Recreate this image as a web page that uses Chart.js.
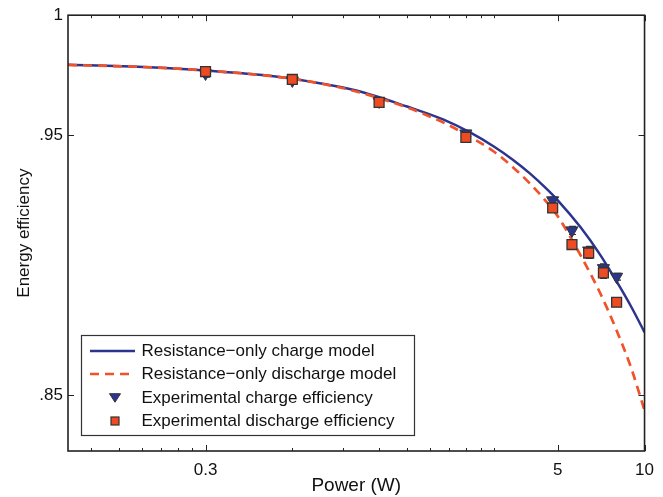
<!DOCTYPE html>
<html>
<head>
<meta charset="utf-8">
<script src="https://cdn.jsdelivr.net/npm/chart.js@4.4.0/dist/chart.umd.min.js"></script>
<style>
  html, body { margin: 0; padding: 0; background: #fff; }
  #wrap { width: 663px; height: 497px; }
</style>
</head>
<body>
<div id="wrap"><canvas id="chart" width="663" height="497"></canvas></div>
<script>
// model curves
const modelPower = [0.1, 0.2, 0.3, 0.5, 0.7, 1, 1.5, 2, 2.5, 3, 3.5, 4, 4.5, 5, 6, 7, 8, 9, 10];
const chargeModel = [0.9790, 0.9779, 0.9766, 0.9744, 0.9719, 0.9683, 0.9617, 0.9564, 0.9509, 0.9454, 0.9400, 0.9346, 0.9292, 0.9239, 0.9133, 0.9028, 0.8924, 0.8827, 0.8732];
const dischargeModel = [0.9790, 0.9779, 0.9766, 0.9744, 0.9719, 0.9679, 0.9613, 0.9552, 0.9491, 0.9434, 0.9370, 0.9306, 0.9242, 0.9176, 0.9024, 0.8882, 0.8739, 0.8598, 0.8445];

// measurements
const expPower = [0.3, 0.6, 1.2, 2.4, 4.8, 5.6, 6.4, 7.2, 8.0];
const chargeExp = [0.9754, 0.9725, 0.9638, 0.9507, 0.9239, 0.9121, 0.9043, 0.8975, 0.8942];
const chargeErr = [0.0015, 0.0012, 0.0012, 0.0013, 0.0013, 0.0016, 0.0016, 0.0016, 0.0013];
const dischargeExp = [0.9762, 0.9729, 0.9634, 0.9491, 0.9209, 0.9066, 0.9033, 0.8957, 0.8845];
const dischargeErr = [0.0012, 0.0012, 0.0013, 0.0013, 0.0016, 0.0016, 0.0021, 0.0021, 0.0016];

// ticks
const xTicks = [0.12, 0.15, 0.18, 0.21, 0.24, 0.27, 0.3, 0.6, 0.9, 1.2, 1.5, 1.8, 2.1, 2.4, 2.7, 3, 5, 10];
const xTickLabels = ["", "", "", "", "", "", "0.3", "", "", "", "", "", "", "", "", "", "5", "10"];
const yTicks = [0.85, 0.95, 1];
const yTickLabels = [".85", ".95", "1"];

const legendLabels = [
    "Resistance\u2212only charge model",
    "Resistance\u2212only discharge model",
    "Experimental charge efficiency",
    "Experimental discharge efficiency",
];

const FONT = "'Liberation Sans', Arial, Helvetica, sans-serif";
const BLUE = "#2b3590";
const RED = "#f0522a";
const SQ = "#ee4b22";
const INK = "#222";

const toXY = (xs, ys) => xs.map((x, i) => ({ x: x, y: ys[i] }));

function drawTri(ctx, x, y, r) {
    ctx.beginPath();
    ctx.moveTo(x - r, y - r * 0.6);
    ctx.lineTo(x + r, y - r * 0.6);
    ctx.lineTo(x, y + r * 0.95);
    ctx.closePath();
    ctx.fillStyle = BLUE;
    ctx.fill();
    ctx.strokeStyle = "#333";
    ctx.lineWidth = 1;
    ctx.stroke();
}

function drawSq(ctx, x, y, h) {
    ctx.fillStyle = SQ;
    ctx.fillRect(x - h, y - h, 2 * h, 2 * h);
    ctx.strokeStyle = "#333";
    ctx.lineWidth = 1.2;
    ctx.strokeRect(x - h, y - h, 2 * h, 2 * h);
}

const framePlugin = {
    id: "frame",
    beforeDatasetsDraw(chart) {
        // error bars under the markers
        const ctx = chart.ctx;
        const xs = chart.scales.x, ys = chart.scales.y;
        ctx.save();
        ctx.strokeStyle = "#333";
        ctx.lineWidth = 1.2;
        const sets = [[chargeExp, chargeErr], [dischargeExp, dischargeErr]];
        sets.forEach(([vals, errs]) => {
            vals.forEach((v, i) => {
                const px = Math.round(xs.getPixelForValue(expPower[i])) + 0.5;
                const y1 = ys.getPixelForValue(v + errs[i]);
                const y2 = ys.getPixelForValue(v - errs[i]);
                ctx.beginPath();
                ctx.moveTo(px, y1); ctx.lineTo(px, y2);
                ctx.moveTo(px - 3.5, y1); ctx.lineTo(px + 3.5, y1);
                ctx.moveTo(px - 3.5, y2); ctx.lineTo(px + 3.5, y2);
                ctx.stroke();
            });
        });
        ctx.restore();
    },
    afterDraw(chart) {
        const ctx = chart.ctx;
        const a = chart.chartArea;
        const xs = chart.scales.x, ys = chart.scales.y;
        ctx.save();
        // box
        ctx.strokeStyle = INK;
        ctx.lineWidth = 1.6;
        ctx.strokeRect(a.left, a.top, a.right - a.left, a.bottom - a.top);
        // inward ticks
        ctx.lineWidth = 1;
        ctx.beginPath();
        xTicks.forEach((v, i) => {
            const px = Math.round(xs.getPixelForValue(v)) + 0.5;
            const len = xTickLabels[i] ? 6 : 3;
            ctx.moveTo(px, a.bottom); ctx.lineTo(px, a.bottom - len);
            ctx.moveTo(px, a.top); ctx.lineTo(px, a.top + len);
        });
        yTicks.forEach((v) => {
            const py = Math.round(ys.getPixelForValue(v)) + 0.5;
            ctx.moveTo(a.left, py); ctx.lineTo(a.left + 6, py);
            ctx.moveTo(a.right, py); ctx.lineTo(a.right - 6, py);
        });
        ctx.stroke();

        // legend box
        const lx = 81, ly = 335, lw = 333, lh = 100;
        ctx.fillStyle = "#fff";
        ctx.fillRect(lx, ly, lw, lh);
        ctx.strokeStyle = "#333";
        ctx.lineWidth = 1.2;
        ctx.strokeRect(lx + 0.5, ly + 0.5, lw, lh);
        const rows = [351, 374, 398, 421];
        ctx.font = "17px " + FONT;
        ctx.fillStyle = "#111";
        ctx.textBaseline = "middle";
        ctx.textAlign = "left";
        legendLabels.forEach((t, i) => ctx.fillText(t, 141.5, rows[i]));
        ctx.lineWidth = 2.5;
        ctx.strokeStyle = BLUE;
        ctx.beginPath(); ctx.moveTo(90, rows[0]); ctx.lineTo(135, rows[0]); ctx.stroke();
        ctx.strokeStyle = RED;
        ctx.setLineDash([9, 6]);
        ctx.beginPath(); ctx.moveTo(90, rows[1]); ctx.lineTo(135, rows[1]); ctx.stroke();
        ctx.setLineDash([]);
        drawTri(ctx, 115, rows[2] - 1, 5.5);
        drawSq(ctx, 115, rows[3], 4);
        ctx.restore();
    },
};

new Chart(document.getElementById("chart"), {
    type: "line",
    data: {
        datasets: [
            {
                label: legendLabels[0],
                data: toXY(modelPower, chargeModel),
                borderColor: BLUE,
                borderWidth: 2.5,
                pointRadius: 0,
                cubicInterpolationMode: "monotone",
                order: 4,
            },
            {
                label: legendLabels[1],
                data: toXY(modelPower, dischargeModel),
                borderColor: RED,
                borderWidth: 2.7,
                borderDash: [9, 6],
                pointRadius: 0,
                cubicInterpolationMode: "monotone",
                order: 3,
            },
            {
                label: legendLabels[2],
                data: toXY(expPower, chargeExp),
                showLine: false,
                pointStyle: "triangle",
                rotation: 180,
                pointRadius: 7,
                backgroundColor: BLUE,
                borderColor: "#333",
                borderWidth: 1,
                order: 2,
            },
            {
                label: legendLabels[3],
                data: toXY(expPower, dischargeExp),
                showLine: false,
                pointStyle: "rect",
                pointRadius: 7,
                backgroundColor: SQ,
                borderColor: "#333",
                borderWidth: 1.3,
                order: 1,
            },
        ],
    },
    options: {
        responsive: false,
        animation: false,
        devicePixelRatio: 1,
        layout: { padding: { top: 14, right: 18, left: 0, bottom: 0 } },
        plugins: { legend: { display: false }, tooltip: { enabled: false } },
        scales: {
            x: {
                type: "logarithmic",
                min: 0.1,
                max: 10,
                afterBuildTicks: (s) => { s.ticks = xTicks.map((v) => ({ value: v })); },
                afterFit: (s) => { s.height = 46; },
                grid: { display: false, drawTicks: false },
                border: { display: false },
                ticks: {
                    autoSkip: false,
                    maxRotation: 0,
                    padding: 9,
                    color: "#111",
                    font: { family: FONT, size: 17 },
                    callback: (v, i) => xTickLabels[i],
                },
                title: {
                    display: true,
                    text: "Power (W)",
                    color: "#111",
                    font: { family: FONT, size: 19 },
                    padding: { top: 0, bottom: 0 },
                },
            },
            y: {
                type: "logarithmic",
                min: 0.83,
                max: 1,
                afterBuildTicks: (s) => { s.ticks = yTicks.map((v) => ({ value: v })); },
                afterFit: (s) => { s.width = 68; },
                grid: { display: false, drawTicks: false },
                border: { display: false },
                ticks: {
                    padding: 5,
                    color: "#111",
                    font: { family: FONT, size: 17 },
                    callback: (v, i) => yTickLabels[i],
                },
                title: {
                    display: true,
                    text: "Energy efficiency",
                    color: "#111",
                    font: { family: FONT, size: 17 },
                    padding: { top: 14, bottom: 0 },
                },
            },
        },
    },
    plugins: [framePlugin],
});
</script>
</body>
</html>
